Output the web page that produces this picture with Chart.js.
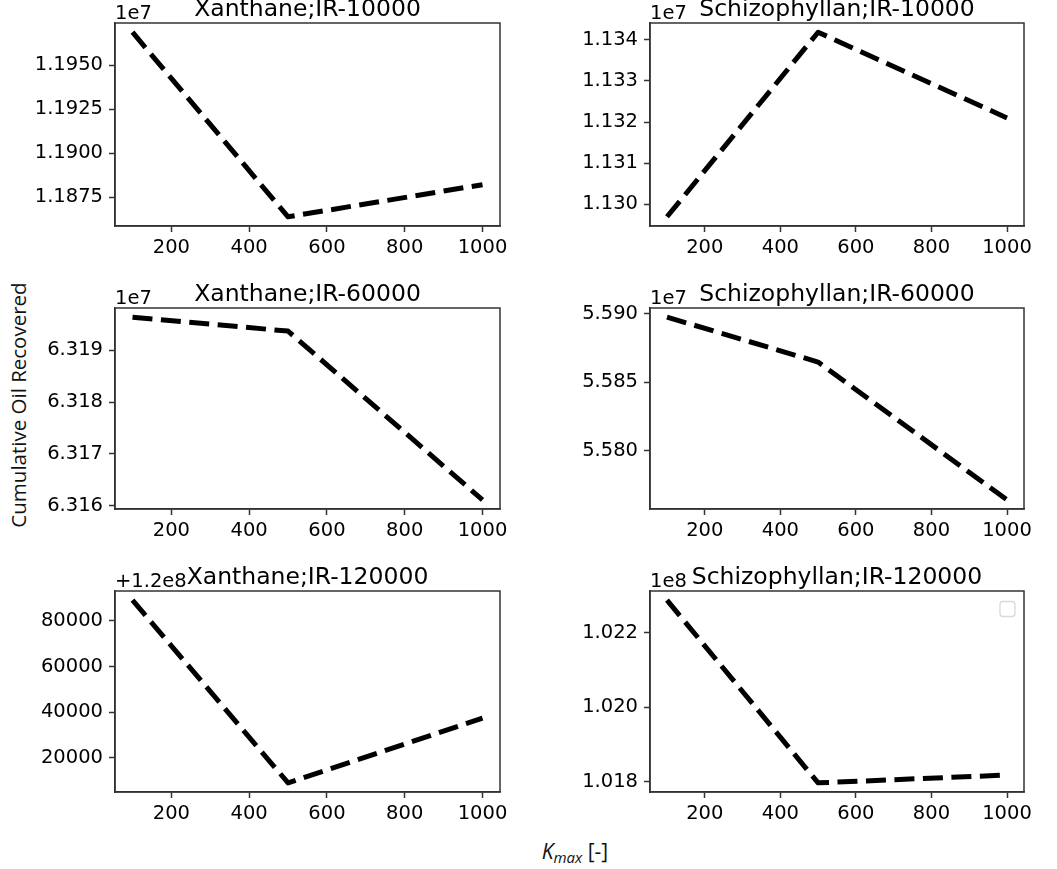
<!DOCTYPE html>
<html>
<head>
<meta charset="utf-8">
<script src="https://cdn.jsdelivr.net/npm/chart.js@4.4.0/dist/chart.umd.min.js"></script>
<style>
html,body{margin:0;padding:0;background:#fff;}
#wrap{position:relative;width:1057px;height:869px;overflow:hidden;background:#fff;}
#wrap canvas{position:absolute;}
.ylab{position:absolute;left:18px;top:405px;transform:translate(-50%,-50%) rotate(-90deg);font-family:'Open Sans',sans-serif;font-size:20.5px;white-space:nowrap;color:#111;}
.xlab{position:absolute;left:575px;top:852px;transform:translate(-50%,-50%);font-family:'Open Sans',sans-serif;font-size:21px;white-space:nowrap;color:#111;}
.xlab sub{font-size:15px;vertical-align:-4px;}
</style>
</head>
<body>
<div id="wrap">
<div class="ylab">Cumulative Oil Recovered</div>
<div class="xlab"><i>K</i><sub><i>max</i></sub> [-]</div>
</div>
<script>
// ---- data ----
const kmax = [100, 500, 1000];
const xTickLabels = ['200', '400', '600', '800', '1000'];

const titles = ['Xanthane;IR-10000', 'Schizophyllan;IR-10000',
                'Xanthane;IR-60000', 'Schizophyllan;IR-60000',
                'Xanthane;IR-120000', 'Schizophyllan;IR-120000'];

const xan10000  = [11968600, 11864000, 11882200];
const sch10000  = [11297000, 11341800, 11321000];
const xan60000  = [63196400, 63193700, 63161100];
const sch60000  = [55897500, 55864700, 55764000];
const xan120000 = [120089000, 120009100, 120037400];
const sch120000 = [102287000, 101797000, 101818000];

const yTicksXan10000  = ['1.1875', '1.1900', '1.1925', '1.1950'];
const yTicksSch10000  = ['1.130', '1.131', '1.132', '1.133', '1.134'];
const yTicksXan60000  = ['6.316', '6.317', '6.318', '6.319'];
const yTicksSch60000  = ['5.580', '5.585', '5.590'];
const yTicksXan120000 = ['20000', '40000', '60000', '80000'];
const yTicksSch120000 = ['1.018', '1.020', '1.022'];

const offsetTexts = ['1e7', '1e7', '1e7', '1e7', '+1.2e8', '1e8'];

// ---- layout ----
const cols = [{l:115, r:500, cx:0, cw:520}, {l:650, r:1024, cx:520, cw:537}];
const rows = [{t:23, b:226, cy:0, ch:270}, {t:308, b:509, cy:270, ch:280}, {t:591, b:792, cy:550, ch:280}];

const panels = [
  {data: xan10000,  ticks: yTicksXan10000,  mult:1e7, add:0},
  {data: sch10000,  ticks: yTicksSch10000,  mult:1e7, add:0},
  {data: xan60000,  ticks: yTicksXan60000,  mult:1e7, add:0},
  {data: sch60000,  ticks: yTicksSch60000,  mult:1e7, add:0},
  {data: xan120000, ticks: yTicksXan120000, mult:1,   add:1.2e8},
  {data: sch120000, ticks: yTicksSch120000, mult:1e8, add:0}
];

const TXT = '#000';
const SPINE = '#333';
const FONT = '"DejaVu Sans", sans-serif';

const wrap = document.getElementById('wrap');

panels.forEach((p, i) => {
  const col = cols[i % 2], row = rows[Math.floor(i / 2)];
  const L = col.l - col.cx, R = col.cx + col.cw - col.r;
  const T = row.t - row.cy, B = row.cy + row.ch - row.b;
  const cv = document.createElement('canvas');
  cv.width = col.cw; cv.height = row.ch;
  cv.style.left = col.cx + 'px'; cv.style.top = row.cy + 'px';
  cv.style.width = col.cw + 'px'; cv.style.height = row.ch + 'px';
  wrap.appendChild(cv);

  const mn = Math.min(...p.data), mx = Math.max(...p.data);
  const pad = (mx - mn) * 0.05;
  const yVals = p.ticks.map(t => parseFloat(t) * p.mult + p.add);
  const xVals = xTickLabels.map(Number);
  const isLast = i === 5;

  const decor = {
    id: 'decor' + i,
    afterDraw(chart) {
      const ctx = chart.ctx, a = chart.chartArea;
      ctx.save();
      ctx.strokeStyle = SPINE; ctx.lineWidth = 1.5;
      ctx.strokeRect(a.left, a.top, a.right - a.left, a.bottom - a.top);
      ctx.fillStyle = TXT;
      ctx.textBaseline = 'alphabetic';
      ctx.font = '23.5px ' + FONT;
      ctx.textAlign = 'center';
      ctx.fillText(titles[i], (a.left + a.right) / 2, a.top - 7.5);
      ctx.font = '19.5px ' + FONT;
      ctx.textAlign = 'left';
      ctx.fillText(offsetTexts[i], a.left, a.top - 4);
      if (isLast) {
        ctx.beginPath();
        ctx.roundRect(a.right - 24, a.top + 10.5, 15, 15, 3);
        ctx.fillStyle = 'rgba(255,255,255,0.8)';
        ctx.fill();
        ctx.strokeStyle = '#d9d9d9'; ctx.lineWidth = 1.3;
        ctx.stroke();
      }
      ctx.restore();
    }
  };

  new Chart(cv, {
    type: 'line',
    data: {
      datasets: [{
        data: kmax.map((k, j) => ({x: k, y: p.data[j]})),
        borderColor: '#000',
        borderWidth: 5,
        borderDash: [20, 8.5],
        borderCapStyle: 'butt',
        borderJoinStyle: 'round',
        pointRadius: 0,
        fill: false,
        tension: 0
      }]
    },
    options: {
      responsive: false,
      animation: false,
      devicePixelRatio: 1,
      layout: {padding: {left: 0, top: T, right: R, bottom: 0}},
      plugins: {legend: {display: false}, title: {display: false}, tooltip: {enabled: false}},
      scales: {
        x: {
          type: 'linear', min: 55, max: 1045,
          afterBuildTicks: s => { s.ticks = xVals.map(v => ({value: v})); },
          afterFit: s => { s.height = B; s.paddingLeft = 0; s.paddingRight = 0; },
          ticks: {autoSkip: false, maxRotation: 0, padding: 4, color: TXT,
                  font: {family: FONT, size: 19.5},
                  callback: (v, k) => xTickLabels[k]},
          grid: {drawOnChartArea: false, drawTicks: true, tickLength: 6, tickWidth: 1.5, tickColor: SPINE},
          border: {display: true, color: SPINE, width: 1.5}
        },
        y: {
          type: 'linear', min: mn - pad, max: mx + pad,
          afterBuildTicks: s => { s.ticks = yVals.map(v => ({value: v})); },
          afterFit: s => { s.width = L; s.paddingTop = 0; s.paddingBottom = 0; },
          ticks: {autoSkip: false, padding: 6, color: TXT,
                  font: {family: FONT, size: 19.5},
                  callback: (v, k) => p.ticks[k]},
          grid: {drawOnChartArea: false, drawTicks: true, tickLength: 6, tickWidth: 1.5, tickColor: SPINE},
          border: {display: true, color: SPINE, width: 1.5}
        }
      }
    },
    plugins: [decor]
  });
});
</script>
</body>
</html>
